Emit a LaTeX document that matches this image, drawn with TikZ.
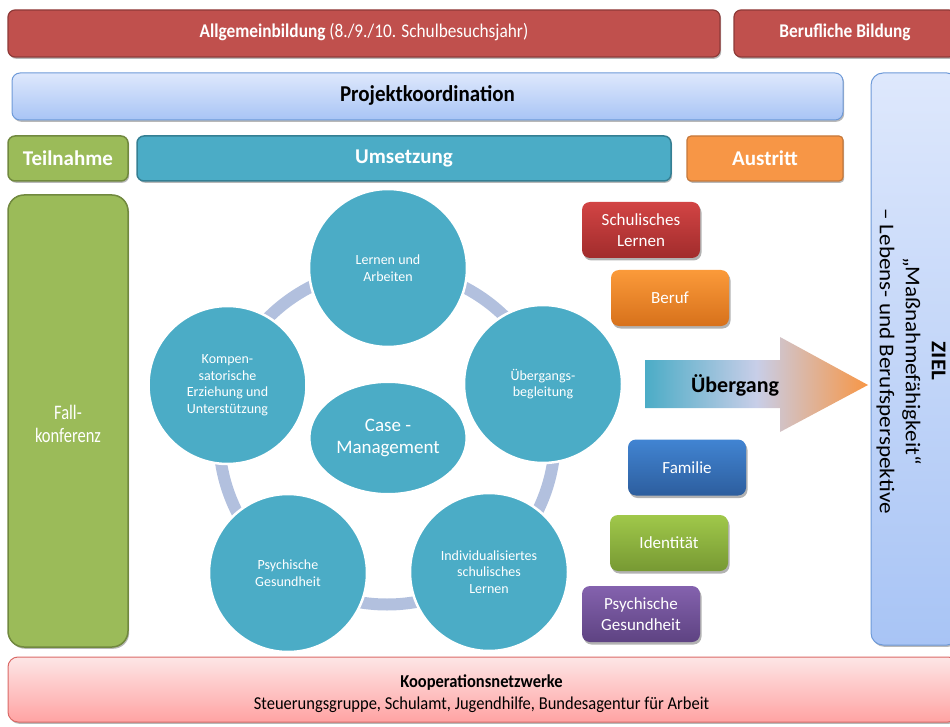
\documentclass[tikz,border=0pt]{standalone}
\usepackage{fontspec}
\setmainfont{Carlito}
\usetikzlibrary{shadows,shapes.geometric}
\definecolor{cRed}{HTML}{C0504D}
\definecolor{cRedD}{HTML}{8E3A38}
\definecolor{cTeal}{HTML}{4BACC6}
\definecolor{cTealD}{HTML}{357F93}
\definecolor{cGreen}{HTML}{9BBB59}
\definecolor{cGreenD}{HTML}{71893F}
\definecolor{cOrange}{HTML}{F79646}
\definecolor{cOrangeD}{HTML}{C5783A}
\definecolor{cBlueT}{HTML}{DEE8FC}
\definecolor{cBlueB}{HTML}{A8C4F5}
\definecolor{cBlueD}{HTML}{6E9AD8}
\definecolor{cPinkT}{HTML}{FDE6E6}
\definecolor{cPinkB}{HTML}{FFA3A3}
\definecolor{cPinkD}{HTML}{DA6A67}
\definecolor{cRing}{HTML}{B2C0DE}
\definecolor{sRedT}{HTML}{D24444}
\definecolor{sRedB}{HTML}{A12C2C}
\definecolor{sOrT}{HTML}{FB9A3A}
\definecolor{sOrB}{HTML}{D7711B}
\definecolor{sBlT}{HTML}{4184D2}
\definecolor{sBlB}{HTML}{2D5E9E}
\definecolor{sGrT}{HTML}{A0C84A}
\definecolor{sGrB}{HTML}{779933}
\definecolor{sPuT}{HTML}{8462AE}
\definecolor{sPuB}{HTML}{5E4382}
\definecolor{arrMid}{HTML}{C8CEE8}
\newcommand{\fsz}[2]{\fontsize{#1}{#2}\selectfont}
\newcommand{\vstr}[2]{\scalebox{1}[#1]{\begin{tabular}{@{}c@{}}#2\end{tabular}}}
\begin{document}
\begin{tikzpicture}[x=1pt,y=-1pt,
  shd/.style={drop shadow={shadow xshift=1.2pt,shadow yshift=-1.8pt,opacity=0.28,fill=black}},
  redbar/.style={draw=cRedD,fill=cRed,line width=1.2pt,rounded corners=7pt,minimum height=47pt,inner sep=0pt,text=white,font=\fsz{17.3}{20},shd},
  bluebar/.style={draw=cBlueD,top color=cBlueT,bottom color=cBlueB,line width=1pt,rounded corners=8pt,inner sep=0pt,shd},
  greenbox/.style={draw=cGreenD,fill=cGreen,line width=1.5pt,rounded corners=7pt,inner sep=0pt,text=white,shd},
  tealbox/.style={draw=cTealD,fill=cTeal,line width=1.5pt,rounded corners=7pt,inner sep=0pt,text=white,shd},
  orangebox/.style={draw=cOrangeD,fill=cOrange,line width=1.2pt,rounded corners=4pt,inner sep=0pt,text=white,shd},
  hdr/.style={minimum height=45pt,font=\fsz{21}{24}\bfseries},
  pinkbar/.style={draw=cPinkD,top color=cPinkT,bottom color=cPinkB,line width=1pt,rounded corners=10pt,inner sep=0pt,shd},
  circ/.style={circle,fill=cTeal,draw=white,line width=2.5pt,minimum size=158pt,inner sep=0pt,text=white,align=center,font=\fsz{14}{16.5}},
  sbox/.style={rounded corners=8pt,minimum width=118pt,minimum height=56pt,inner sep=0pt,text=white,align=center,font=\fsz{17}{21},
    drop shadow={shadow xshift=1.5pt,shadow yshift=-2.5pt,opacity=0.3,fill=black}}
]
\useasboundingbox (0,0) rectangle (950,727);
\clip (0,0) rectangle (950,727);

% top bars
\node[redbar,minimum width=712pt] (allg) at (364,33.5) {\vstr{1.12}{\textbf{Allgemeinbildung} (8./9./10. Schulbesuchsjahr)}};
\node[redbar,minimum width=222pt] (beruf) at (845,33.5) {\vstr{1.12}{\textbf{Berufliche Bildung}}};

% Projektkoordination and ZIEL
\node[bluebar,minimum width=831pt,minimum height=47pt,font=\fsz{21}{24}\bfseries] (proj) at (427.5,96.5) {\vstr{1.08}{Projektkoordination}};
\node[bluebar,minimum width=88pt,minimum height=572pt,rounded corners=12pt] (ziel) at (915,359) {};
\node[rotate=-90,font=\fsz{21}{26}] (zieltxt) at (911,361)
  {\scalebox{1.1}[1]{\begin{tabular}{@{}c@{}}\textbf{ZIEL}\\„Maßnahmefähigkeit“\\– Lebens- und Berufsperspektive\end{tabular}}};

% header row
\node[greenbox,hdr,minimum width=120pt] (teil) at (68,158.5) {Teilnahme};
\node[tealbox,hdr,minimum width=534pt] (ums) at (404,158.5) {Umsetzung};
\node[orangebox,hdr,minimum width=156pt] (aus) at (765,158.5) {Austritt};

% Fallkonferenz
\node[greenbox,minimum width=120pt,minimum height=452pt,rounded corners=16pt] (fall) at (68,421) {};
\node[text=white,font=\fsz{16.5}{18.5}] (falltxt) at (68,426) {\vstr{1.25}{Fall-\\konferenz}};

% cycle ring
\coordinate (cyc) at (387,436.5);
\draw[cRing,line width=12pt] (cyc) circle [radius=168pt];

% circles
\node[circ] (lern) at (388,268) {Lernen und\\Arbeiten};
\node[circ] (uebb) at (543,384) {Übergangs-\\begleitung};
\node[circ] (indi) at (489,572) {Individualisiertes\\schulisches\\Lernen};
\node[circ] (psyc) at (288,573) {Psychische\\Gesundheit};
\node[circ] (komp) at (227.5,385) {Kompen-\\satorische\\Erziehung und\\Unterstützung};
\node[ellipse,fill=cTeal,draw=white,line width=2pt,minimum width=157pt,minimum height=112pt,inner sep=0pt,text=white,align=center,font=\fsz{19}{22}] (case) at (388,438) {Case -\\Management};

% Übergang arrow
\shade[left color=cTeal,right color=cOrange,middle color=arrMid]
  (645,360) -- (780,360) -- (780,337) -- (868,385) -- (780,432) -- (780,408) -- (645,408) -- cycle;
\node[font=\fsz{22}{24}\bfseries,text=black] (uebg) at (735,385) {Übergang};

% small boxes
\node[sbox,top color=sRedT,bottom color=sRedB] (schul) at (641,230) {Schulisches\\Lernen};
\node[sbox,top color=sOrT,bottom color=sOrB] (berf) at (670,298) {Beruf};
\node[sbox,top color=sBlT,bottom color=sBlB] (fam) at (687,467.5) {Familie};
\node[sbox,top color=sGrT,bottom color=sGrB] (ident) at (669,543) {Identität};
\node[sbox,top color=sPuT,bottom color=sPuB] (psgs) at (641,614) {Psychische\\Gesundheit};

% bottom bar
\node[pinkbar,minimum width=950pt,minimum height=65pt] (koop) at (483,689.5) {};
\node[font=\fsz{16.5}{19.5}] (kooptxt) at (481.5,694)
  {\vstr{1.1}{\textbf{Kooperationsnetzwerke}\\Steuerungsgruppe, Schulamt, Jugendhilfe, Bundesagentur für Arbeit}};
\end{tikzpicture}
\end{document}
